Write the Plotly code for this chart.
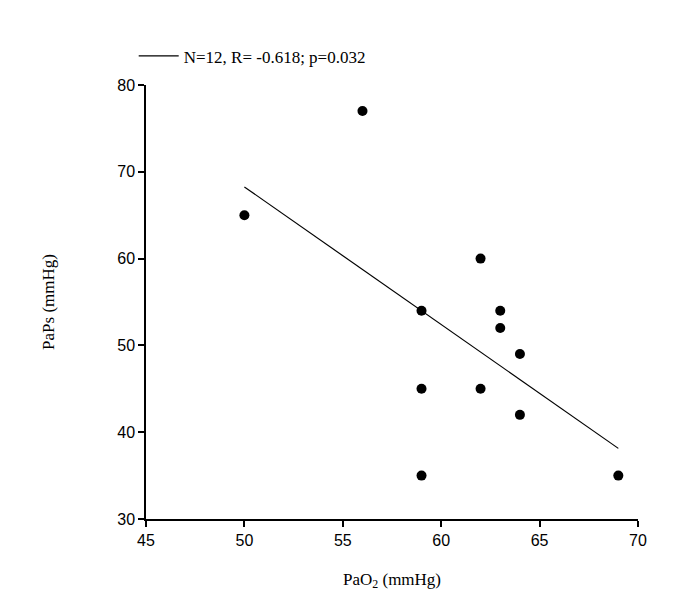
import numpy as np
import plotly.graph_objects as go

pao2 = [50, 56, 59, 59, 59, 62, 62, 63, 63, 64, 64, 69]
paps = [65, 77, 54, 45, 35, 60, 45, 54, 52, 49, 42, 35]
legend_label = "N=12, R= -0.618; p=0.032"
x_ticks = [45, 50, 55, 60, 65, 70]
y_ticks = [30, 40, 50, 60, 70, 80]

slope, intercept = np.polyfit(pao2, paps, 1)
fit_x = np.array([min(pao2), max(pao2)])
fit_y = slope * fit_x + intercept

fig = go.Figure()
fig.add_trace(go.Scatter(x=pao2, y=paps, mode="markers",
                         marker=dict(color="black", size=10),
                         showlegend=False, cliponaxis=False))
fig.add_trace(go.Scatter(x=fit_x, y=fit_y, mode="lines",
                         line=dict(color="black", width=1.2),
                         name=legend_label, showlegend=True))

axis_common = dict(showline=True, linecolor="black", linewidth=1.5,
                   ticks="outside", ticklen=6, tickwidth=1.5, tickcolor="black",
                   showgrid=False, zeroline=False,
                   tickfont=dict(family="Liberation Sans, Arial", size=16, color="black"))

fig.update_xaxes(range=[45, 70], tickvals=x_ticks,
                 title=dict(text="PaO<sub>2</sub> (mmHg)", standoff=25,
                            font=dict(family="Liberation Serif, Times New Roman", size=17, color="black")),
                 **axis_common)
fig.update_yaxes(range=[30, 80], tickvals=y_ticks,
                 title=dict(text="PaPs (mmHg)", standoff=58,
                            font=dict(family="Liberation Serif, Times New Roman", size=17, color="black")),
                 **axis_common)

fig.update_layout(
    width=685, height=610,
    margin=dict(l=138, r=55, t=77, b=99),
    plot_bgcolor="white", paper_bgcolor="white",
    legend=dict(x=-0.025, y=1.066, xanchor="left", yanchor="middle",
                itemwidth=40,
                bgcolor="rgba(0,0,0,0)",
                font=dict(family="Liberation Serif, Times New Roman", size=17, color="black")),
)

fig.write_html("out.html")
